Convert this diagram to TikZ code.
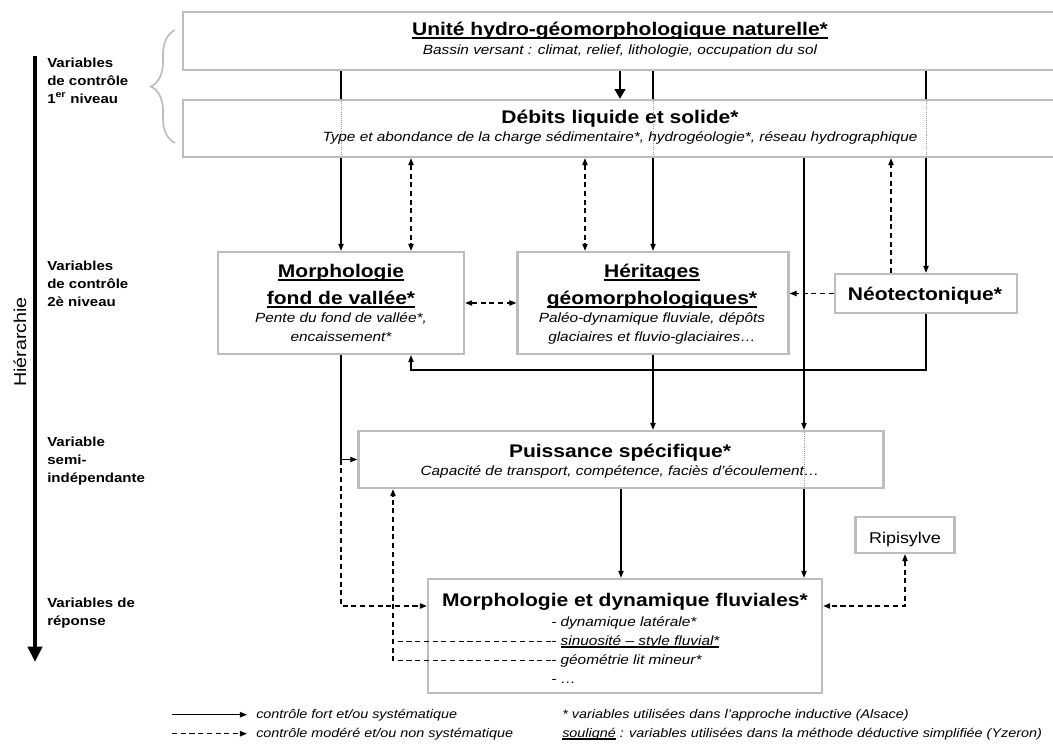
\documentclass[tikz,border=0pt]{standalone}
\usepackage{fontspec}
\setmainfont{Liberation Sans}[FakeStretch=1.15]
\usetikzlibrary{arrows.meta, calc, decorations.pathreplacing}
\definecolor{gris}{HTML}{BDBDBD}
\definecolor{pt}{HTML}{9A9A9A}
\newcommand{\souligne}[1]{\setbox0=\hbox{#1}\rlap{\rule[-1.8pt]{\wd0}{0.8pt}}\box0\relax}

\begin{document}
\begin{tikzpicture}[x=0.025cm, y=-0.025cm, >={Triangle[length=5pt,width=3.8pt]},
    cadre/.style={draw=gris, line width=1.6pt, fill=white, inner sep=0pt},
    titre/.style={font=\fontsize{13}{15}\selectfont\bfseries, inner sep=0pt, anchor=base},
    sous/.style={font=\fontsize{9.5}{11}\selectfont\itshape, inner sep=0pt, anchor=base},
    etiq/.style={font=\fontsize{9.3}{12.6}\selectfont\bfseries, align=left, anchor=north west, inner sep=0pt},
    legende/.style={font=\fontsize{8.9}{11}\selectfont\itshape, anchor=base west, inner sep=0pt},
    fort/.style={line width=0.9pt},
    modere/.style={line width=0.9pt, dash pattern=on 3.6pt off 2.6pt},
    trace/.style={draw=pt, densely dotted, line width=0.5pt},
    epais/.style={line width=2pt, -{Triangle[length=7pt,width=7.5pt]}},
    hier/.style={line width=3pt, -{Triangle[length=11pt,width=10pt]}},
    accolade/.style={draw=gris, line width=1.2pt, decorate, decoration={brace, amplitude=0.6cm}}]

\useasboundingbox (0,0) rectangle (1053,747);

% hierarchie
\coordinate (hH) at (35,56);
\coordinate (hB) at (35,662);
\draw[hier] (hH) -- (hB);
\node[rotate=90, font=\fontsize{12.2}{14}\selectfont] (hiera) at (20,342) {Hiérarchie};

\node[etiq] (lab1) at (47,58) {Variables\\de contrôle\\1\textsuperscript{er} niveau};
\node[etiq] (lab2) at (47,261) {Variables\\de contrôle\\2è niveau};
\node[etiq] (lab3) at (47,437) {Variable\\semi-\\indépendante};
\node[etiq] (lab4) at (47,598) {Variables de\\réponse};

\draw[accolade] (175,143) -- (175,30);

% cadres
\node[cadre, minimum width=21.85cm, minimum height=1.45cm] (unite) at (620,41) {};
\node[cadre, minimum width=21.85cm, minimum height=1.425cm] (debit) at (620,128.5) {};
\node[cadre, minimum width=6.15cm, minimum height=2.55cm] (fond) at (341,303) {};
\node[cadre, minimum width=6.775cm, minimum height=2.55cm] (heri) at (653,303) {};
\node[cadre, minimum width=4.55cm, minimum height=0.975cm] (neo) at (926,293.5) {};
\node[cadre, minimum width=13.125cm, minimum height=1.425cm] (puis) at (621,459.5) {};
\node[cadre, minimum width=9.85cm, minimum height=2.85cm] (fluv) at (625,636) {};
\node[cadre, minimum width=2.475cm, minimum height=0.9cm] (rip) at (905,535) {};

% textes
\node[titre] (uniteT) at (620,36) {\souligne{Unité hydro-géomorphologique naturelle*}};
\node[sous] (uniteS) at (620,55) {Bassin versant : climat, relief, lithologie, occupation du sol};
\node[titre] (debitT) at (620,124) {Débits liquide et solide*};
\node[sous] (debitS) at (620,142) {Type et abondance de la charge sédimentaire*, hydrogéologie*, réseau hydrographique};
\node[titre] (fondT1) at (341,278) {\souligne{Morphologie}};
\node[titre] (fondT2) at (341,305) {\souligne{fond de vallée*}};
\node[sous] (fondS1) at (341,323) {Pente du fond de vallée*,};
\node[sous] (fondS2) at (341,342) {encaissement*};
\node[titre] (heriT1) at (652,278) {\souligne{Héritages}};
\node[titre] (heriT2) at (652,305) {\souligne{géomorphologiques*}};
\node[sous] (heriS1) at (652,323) {Paléo-dynamique fluviale, dépôts};
\node[sous] (heriS2) at (652,342) {glaciaires et fluvio-glaciaires…};
\node[titre] (neoT) at (925,301) {Néotectonique*};
\node[titre] (puisT) at (620,458) {Puissance spécifique*};
\node[sous] (puisS) at (620,476) {Capacité de transport, compétence, faciès d’écoulement…};
\node[titre] (fluvT) at (625,606) {Morphologie et dynamique fluviales*};
\foreach \i/\txt/\yb in {1/{- dynamique latérale*}/626, 2/{- \souligne{sinuosité – style fluvial*}}/645,
    3/{- géométrie lit mineur*}/664, 4/{- …}/683}
  \node[sous, anchor=base west] (it\i) at (551,\yb) {\txt};
\node[anchor=base, inner sep=0pt, font=\fontsize{11.1}{13}\selectfont] (ripT) at (905,543) {Ripisylve};

% reperes
\coordinate (gA) at (411,0);
\coordinate (gB) at (585,0);
\coordinate (gC) at (891,0);
\coordinate (gD) at (804,0);
\coordinate (gE) at (393,0);
\coordinate (yA) at (0,370);
\coordinate (yB) at (0,606);

% liens
\draw[epais] (unite.south) -- (debit.north);
\foreach \cible in {fond,heri,neo} {
  \draw[fort] (unite.south -| \cible.north) -- (debit.north -| \cible.north);
  \draw[trace] (debit.north -| \cible.north) -- (debit.south -| \cible.north);
  \draw[fort,->] (debit.south -| \cible.north) -- (\cible.north);
}
\draw[modere,<->] (debit.south -| gA) -- (fond.north -| gA);
\draw[modere,<->] (debit.south -| gB) -- (heri.north -| gB);
\draw[modere,->] (neo.north -| gC) -- (debit.south -| gC);
\draw[modere,<->] (fond.east) -- (heri.west);
\draw[modere,->] (neo.west) -- (neo.west -| heri.east);

\draw[fort,->] (debit.south -| gD) -- (puis.north -| gD);
\draw[trace] (puis.north -| gD) -- (puis.south -| gD);
\draw[fort,->] (puis.south -| gD) -- (fluv.north -| gD);
\draw[fort,->] (heri.south) -- (puis.north -| heri.south);
\draw[fort,->] (neo.south) -- (neo.south |- yA) -| (fond.south -| gA);
\draw[fort,->] (fond.south) |- (puis.west);
\draw[modere,->] (fond.south |- puis.west) |- (fluv.west |- yB);
\draw[fort,->] (puis.south) -- (puis.south |- fluv.north);
\draw[modere,<->] (rip.south) |- (fluv.east |- yB);
\draw[modere] (it2.west) -- (it2.west -| gE);
\draw[modere,->] (it3.west) -| (puis.south -| gE);

% legende
\node[legende] (lgA) at (256,718) {contrôle fort et/ou systématique};
\node[legende] (lgB) at (256,737) {contrôle modéré et/ou non systématique};
\node[legende] (lgC) at (562,718) {* variables utilisées dans l’approche inductive (Alsace)};
\node[legende] (lgD) at (562,737) {\souligne{souligné} : variables utilisées dans la méthode déductive simplifiée (Yzeron)};
\draw[fort,->] ($(lgA.west)+(-84,0)$) -- ($(lgA.west)+(-9,0)$);
\draw[modere,->] ($(lgB.west)+(-84,0)$) -- ($(lgB.west)+(-9,0)$);

\end{tikzpicture}
\end{document}
